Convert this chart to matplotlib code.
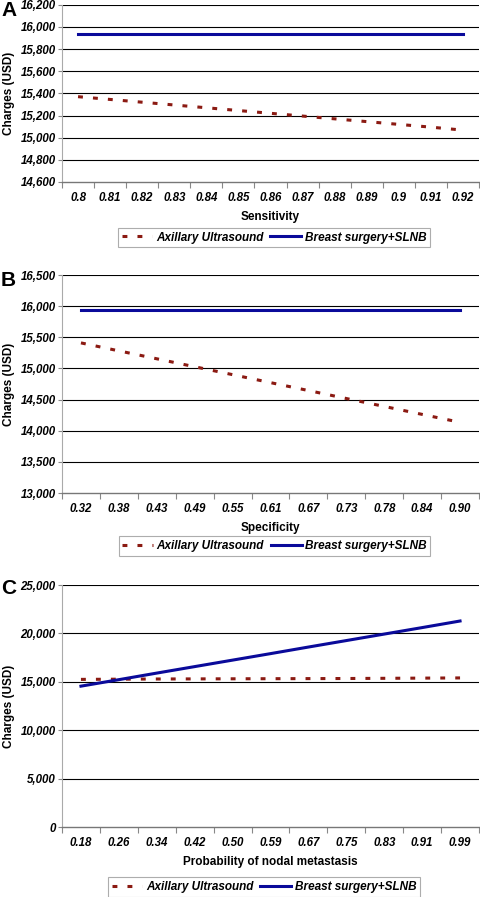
import matplotlib
matplotlib.use("Agg")
import matplotlib.pyplot as plt
from matplotlib.ticker import FuncFormatter, FixedLocator
import numpy as np

plt.rcParams['font.family'] = ['Liberation Sans', 'DejaVu Sans']

# panel A - sensitivity
sens_labels = ["0.8", "0.81", "0.82", "0.83", "0.84", "0.85", "0.86",
               "0.87", "0.88", "0.89", "0.9", "0.91", "0.92"]
sens_aus = [15370, 15345, 15320, 15295, 15270, 15245, 15220,
            15195, 15170, 15145, 15120, 15095, 15068]
sens_slnb = [15940] * 13

# panel B - specificity
spec_labels = ["0.32", "0.38", "0.43", "0.49", "0.55", "0.61",
               "0.67", "0.73", "0.78", "0.84", "0.90"]
spec_aus = [15410, 15282, 15155, 15027, 14900, 14772,
            14645, 14517, 14390, 14262, 14135]
spec_slnb = [15935] * 11

# panel C - probability of nodal metastasis
prob_labels = ["0.18", "0.26", "0.34", "0.42", "0.50", "0.59",
               "0.67", "0.75", "0.83", "0.91", "0.99"]
prob_aus = [15250, 15270, 15290, 15300, 15310, 15320,
            15330, 15340, 15360, 15380, 15400]
prob_slnb = [14550, 15220, 15900, 16570, 17240, 17910,
             18590, 19260, 19930, 20600, 21280]

panels = [
    ("A", sens_labels, sens_aus, sens_slnb, "Sensitivity",
     (14600, 16200), 200, [62, 4.7, 479, 182], (274, 237.5), 11),
    ("B", spec_labels, spec_aus, spec_slnb, "Specificity",
     (13000, 16500), 500, [62, 275, 479, 493], (274.5, 546), 281),
    ("C", prob_labels, prob_aus, prob_slnb, "Probability of nodal metastasis",
     (0, 25000), 5000, [62, 585, 479, 827], (264, 887), 589),
]

W, H = 480, 897
fig = plt.figure(figsize=(W / 100, H / 100), dpi=100)

red = "#8b1a12"
blue = "#0a0a9a"

for letter, labels, aus, slnb, xlab, ylim, ystep, box, legc, ly in panels:
    x0, y0, x1, y1 = box
    ax = fig.add_axes([x0 / W, 1 - y1 / H, (x1 - x0) / W, (y1 - y0) / H])
    x = np.arange(len(labels))
    ax.plot(x, aus, color=red, lw=2.2, linestyle=(0, (1.6, 3.3)),
            label="Axillary Ultrasound", zorder=3)
    ax.plot(x, slnb, color=blue, lw=2.2, label="Breast surgery+SLNB", zorder=3)

    ax.set_xlim(-0.5, len(labels) - 0.5)
    ax.set_ylim(*ylim)
    yt = np.arange(ylim[0], ylim[1] + 1, ystep)
    ax.set_yticks(yt)
    ax.yaxis.set_major_formatter(FuncFormatter(lambda v, p: f"{int(v):,}"))
    for v in yt[1:]:
        ax.axhline(v, color="black", lw=0.8, zorder=1)

    # category labels in the middle, tick marks between categories
    ax.set_xticks(x)
    ax.set_xticklabels(labels)
    ax.xaxis.set_minor_locator(FixedLocator(np.arange(-0.5, len(labels), 1.0)))
    ax.tick_params(axis="x", which="major", length=0, pad=7)
    ax.tick_params(axis="x", which="minor", length=4, color="#888888", width=0.8)
    ax.tick_params(axis="y", length=3, color="#888888", width=0.8, pad=1.5)
    for t in ax.get_xticklabels() + ax.get_yticklabels():
        t.set_fontsize(8.3)
        t.set_fontweight("bold")
        t.set_fontstyle("italic")

    for s in ["top", "right"]:
        ax.spines[s].set_visible(False)
    ax.spines["left"].set_color("#aaaaaa")
    ax.spines["bottom"].set_color("#777777")
    ax.spines["left"].set_linewidth(0.8)
    ax.spines["bottom"].set_linewidth(1.0)

    ax.set_xlabel(xlab, fontsize=8.5, fontweight="bold")
    ax.xaxis.set_label_coords(0.5, -29 / (y1 - y0))
    ax.set_ylabel("Charges (USD)", fontsize=8.5, fontweight="bold")
    ax.yaxis.label.set_va("center")
    ax.yaxis.set_label_coords((9 - x0) / (x1 - x0), 0.5)

    leg = ax.legend(loc="center", bbox_to_anchor=(legc[0] / W, 1 - legc[1] / H),
                    bbox_transform=fig.transFigure, ncol=2, frameon=True,
                    fancybox=False, handlelength=2.6, columnspacing=0.6,
                    handletextpad=0.3, borderpad=0.3,
                    prop=dict(size=8.5, weight="bold", style="italic"))
    leg.get_frame().set_edgecolor("#999999")
    leg.get_frame().set_linewidth(0.8)

    fig.text(1 / W, 1 - ly / H, letter, fontsize=15, fontweight="bold",
             ha="left", va="center")

fig.savefig("out.png", dpi=100)
